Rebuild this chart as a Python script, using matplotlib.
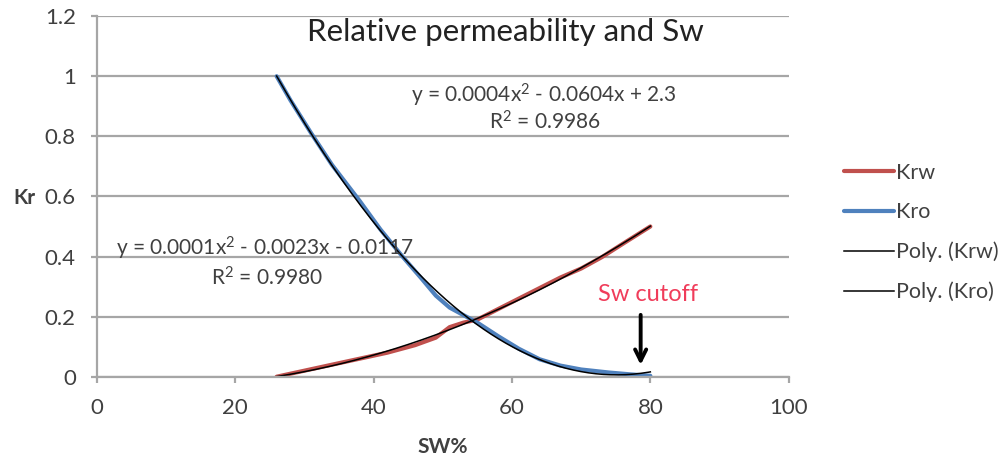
import numpy as np
import matplotlib
matplotlib.use('Agg')
import matplotlib.pyplot as plt

plt.rcParams['font.family'] = ['Lato', 'DejaVu Sans']
plt.rcParams['mathtext.fontset'] = 'custom'
plt.rcParams['mathtext.rm'] = 'Lato'

# water saturation (%) and relative permeabilities
sw_krw = [26, 30, 34, 38, 42, 46, 49, 51, 53, 55, 58, 61, 64, 67, 70, 73, 76, 80]
krw = [0.0, 0.02, 0.04, 0.06, 0.08, 0.105, 0.13, 0.165, 0.18, 0.19, 0.225, 0.26,
       0.295, 0.33, 0.36, 0.398, 0.442, 0.5]

sw_kro = [26, 28, 31, 34, 38, 41, 44, 47, 49, 51, 53, 55, 58, 61, 64, 67, 70, 74, 77, 80]
kro = [1.0, 0.92, 0.81, 0.705, 0.585, 0.49, 0.405, 0.325, 0.27, 0.23, 0.205, 0.18,
       0.135, 0.093, 0.058, 0.037, 0.024, 0.014, 0.008, 0.003]

eq_krw = [r'y = 0.0001x$\mathrm{^2}$ - 0.0023x - 0.0117', r'R$\mathrm{^2}$ = 0.9980']
eq_kro = [r'y = 0.0004x$\mathrm{^2}$ - 0.0604x + 2.3', r'R$\mathrm{^2}$ = 0.9986']
sw_cutoff = 78.6

GRID = '#a6a6a6'
TXT = '#404040'

fig = plt.figure(figsize=(10.03, 4.57), dpi=100)
ax = fig.add_axes([0.0964, 0.1757, 0.690, 0.789])

ax.plot(sw_krw, krw, color='#c0504d', lw=3, label='Krw', solid_capstyle='round')
ax.plot(sw_kro, kro, color='#4f81bd', lw=3, label='Kro', solid_capstyle='round')

# 2nd order polynomial trendlines
xs = np.linspace(min(sw_krw), max(sw_krw), 200)
ax.plot(xs, np.polyval(np.polyfit(sw_krw, krw, 2), xs), color='black', lw=1.1,
        label='Poly. (Krw)')
xs = np.linspace(min(sw_kro), max(sw_kro), 200)
ax.plot(xs, np.polyval(np.polyfit(sw_kro, kro, 2), xs), color='black', lw=1.1,
        label='Poly. (Kro)')

ax.set_xlim(0, 100)
ax.set_ylim(0, 1.2)
ax.set_xticks(np.arange(0, 101, 20))
ax.set_yticks(np.arange(0, 1.21, 0.2))
ax.yaxis.set_major_formatter(matplotlib.ticker.FuncFormatter(lambda v, p: f'{v:g}'))
ax.grid(axis='y', color=GRID, lw=1.6)
ax.set_axisbelow(True)
for s in ['top', 'right']:
    ax.spines[s].set_visible(False)
for s in ['left', 'bottom']:
    ax.spines[s].set_color(GRID)
    ax.spines[s].set_linewidth(1.6)
ax.tick_params(colors=GRID, labelcolor=TXT, labelsize=16, length=4, width=1.6,
               direction='out')
ax.tick_params(axis='x', pad=11)
ax.tick_params(axis='y', pad=11)

ax.text(0.59, 0.956, 'Relative permeability and Sw', transform=ax.transAxes,
        ha='center', va='center', fontsize=22.5, color='#222222')

ax.text(0.646, 0.781, eq_kro[0], transform=ax.transAxes, ha='center', va='center',
        fontsize=15, color=TXT)
ax.text(0.648, 0.706, eq_kro[1], transform=ax.transAxes, ha='center', va='center',
        fontsize=15, color=TXT)
ax.text(0.243, 0.357, eq_krw[0], transform=ax.transAxes, ha='center', va='center',
        fontsize=15, color=TXT)
ax.text(0.246, 0.274, eq_krw[1], transform=ax.transAxes, ha='center', va='center',
        fontsize=15, color=TXT)

ax.text(0.797, 0.227, 'Sw cutoff', transform=ax.transAxes, ha='center',
        va='center', fontsize=17, color='#f03c5a')
ax.annotate('', xy=(sw_cutoff, 0.03), xytext=(sw_cutoff, 0.215),
            arrowprops=dict(arrowstyle='->,head_length=0.8,head_width=0.4',
                            color='black', lw=2.8))

fig.text(0.024, 0.567, 'Kr', fontsize=15, fontweight='bold', color=TXT,
         ha='center', va='center')
fig.text(0.441, 0.022, 'SW%', fontsize=15, fontweight='bold', color=TXT,
         ha='center', va='center')

fig.legend(loc='center left', bbox_to_anchor=(0.831, 0.491), frameon=False,
           fontsize=15.5, handlelength=2.3, handletextpad=0.12, labelspacing=0.9,
           borderpad=0, labelcolor=TXT)

fig.savefig('out.png', dpi=100)
